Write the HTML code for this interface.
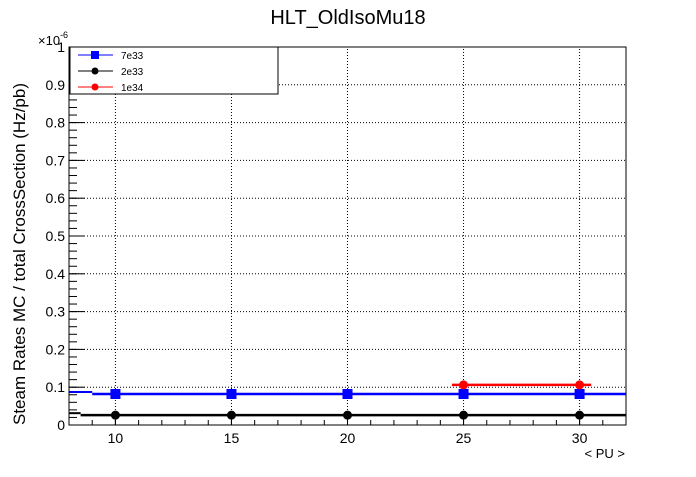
<!DOCTYPE html>
<html><head><meta charset="utf-8"><style>body{margin:0;background:#fff}svg{font-family:"Liberation Sans",sans-serif}</style></head>
<body>
<svg width="696" height="472" xmlns="http://www.w3.org/2000/svg">
<text x="348" y="24" font-size="20" text-anchor="middle">HLT_OldIsoMu18</text>
<g id="grid"></g>
<g id="axes"></g>
<g id="series"></g>
<rect x="69" y="47" width="557" height="378" fill="none" stroke="#000"/>
<text x="625" y="458" font-size="13" text-anchor="end">&lt; PU &gt;</text>
<text transform="translate(25,425) rotate(-90)" font-size="17">Steam Rates MC / total CrossSection (Hz/pb)</text>
<text x="38" y="45" font-size="13">×10<tspan dy="-7" font-size="9">-6</tspan></text>
<g>
<rect x="70" y="47" width="208" height="47" fill="#fff" stroke="#000"/>
</g>
<g id="legend"></g>
</svg>
<script>
const xTicks=[10,15,20,25,30];
const yTicks=[0,0.1,0.2,0.3,0.4,0.5,0.6,0.7,0.8,0.9,1];
const yTickLabels=["0","0.1","0.2","0.3","0.4","0.5","0.6","0.7","0.8","0.9","1"];
const puValues=[10,15,20,25,30];
const rate7e33=[0.082,0.082,0.082,0.082,0.082];
const rate2e33=[0.026,0.026,0.026,0.026,0.026];
const puValues1e34=[25,30];
const rate1e34=[0.106,0.106];
const seriesNames=["7e33","2e33","1e34"];
const NS="http://www.w3.org/2000/svg";
const X0=69,X1=626,Y0=425,Y1=47,XMIN=8,XMAX=32;
const sx=v=>X0+(v-XMIN)/(XMAX-XMIN)*(X1-X0);
const sy=v=>Y0-v*(Y0-Y1);
function mk(tag,attrs,parent){const e=document.createElementNS(NS,tag);for(const k in attrs)e.setAttribute(k,attrs[k]);parent.appendChild(e);return e;}
const grid=document.getElementById('grid'),axes=document.getElementById('axes'),ser=document.getElementById('series'),leg=document.getElementById('legend');
xTicks.forEach(t=>{const l=mk('line',{x1:sx(t),x2:sx(t),y1:Y0,y2:Y1,stroke:'#000','stroke-dasharray':'1,2'},grid);


const tx=mk('text',{x:sx(t),y:Y0+18,'font-size':14,'text-anchor':'middle'},axes);tx.textContent=t;


mk('line',{x1:sx(t),x2:sx(t),y1:Y0,y2:Y0-11,stroke:'#000'},axes);});
for(let v=XMIN;v<=XMAX;v++){mk('line',{x1:sx(v),x2:sx(v),y1:Y0,y2:Y0-5,stroke:'#000'},axes);}
yTicks.forEach((t,i)=>{if(t>0&&t<1){const l=mk('line',{x1:X0,x2:X1,y1:sy(t),y2:sy(t),stroke:'#000','stroke-dasharray':'1,2'},grid);

}
const tx=mk('text',{x:X0-4,y:sy(t)+5,'font-size':14,'text-anchor':'end'},axes);tx.textContent=yTickLabels[i];


mk('line',{x1:X0,x2:X0+16,y1:sy(t),y2:sy(t),stroke:'#000'},axes);});
for(let v=0;v<=1.0001;v+=0.02){mk('line',{x1:X0,x2:X0+8,y1:sy(v),y2:sy(v),stroke:'#000'},axes);}
function line(xs,ys,x0,x1,color,marker,name,leftStub){
 const y=sy(ys[0]);
 const l=mk('line',{x1:sx(x0),x2:sx(x1),y1:y,y2:y,stroke:color,'stroke-width':2.5},ser);
 
 
 if(leftStub){mk('line',{x1:X0,x2:sx(leftStub),y1:y-2,y2:y-2,stroke:color,'stroke-width':2},ser);}
 xs.forEach((x,i)=>{let m;
  if(marker==='sq')m=mk('rect',{x:sx(x)-5,y:sy(ys[i])-5,width:10,height:10,fill:color},ser);
  else m=mk('circle',{cx:sx(x),cy:sy(ys[i]),r:4.5,fill:color},ser);
  
  });
}
line(puValues,rate2e33,8.5,32,'#000','c','series-2e33',8.5);
line(puValues,rate7e33,9,32,'#00f','sq','series-7e33',9);
line(puValues1e34,rate1e34,24.5,30.5,'#f00','c','series-1e34');
const lc=['#00f','#000','#f00'],lm=['sq','c','c'];
seriesNames.forEach((n,i)=>{const y=55+i*16;
 mk('line',{x1:78,x2:113,y1:y,y2:y,stroke:lc[i]},leg);
 if(lm[i]==='sq')mk('rect',{x:91,y:y-4,width:8,height:8,fill:lc[i]},leg);else mk('circle',{cx:95,cy:y,r:3.5,fill:lc[i]},leg);
 const t=mk('text',{x:121,y:y+4,'font-size':10},leg);t.textContent=n;
 
 });
</script>
</body></html>
